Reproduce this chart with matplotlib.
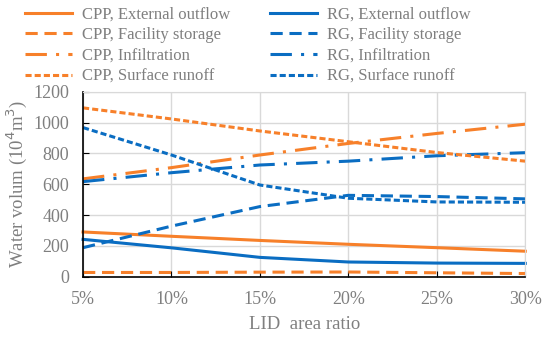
import numpy as np
import matplotlib
matplotlib.use("Agg")
import matplotlib.pyplot as plt
from matplotlib.ticker import FuncFormatter

plt.rcParams["font.family"] = ["Liberation Serif", "DejaVu Serif"]

ratio = [5, 10, 15, 20, 25, 30]
cpp_outflow = [290, 262, 235, 210, 188, 165]
rg_outflow = [242, 187, 125, 95, 88, 86]
cpp_storage = [27, 27, 29, 30, 25, 20]
rg_storage = [188, 328, 455, 528, 520, 505]
cpp_infil = [635, 708, 790, 865, 930, 990]
rg_infil = [617, 675, 725, 750, 785, 805]
cpp_runoff = [1096, 1024, 946, 876, 806, 750]
rg_runoff = [968, 790, 595, 509, 485, 483]

ORANGE = "#F7802A"
BLUE = "#0A6DC2"
GRAY = "#7F7F7F"

ls_out = "-"
ls_sto = (0, (4, 2.2))
ls_inf = (0, (7, 3, 1, 3))
ls_run = (0, (2, 1))

fig = plt.figure(figsize=(5.5, 3.39), dpi=100)
ax = fig.add_axes([0.151, 0.184, 0.804, 0.545])

series = [
    ("CPP, External outflow", cpp_outflow, ORANGE, ls_out),
    ("RG, External outflow", rg_outflow, BLUE, ls_out),
    ("CPP, Facility storage", cpp_storage, ORANGE, ls_sto),
    ("RG, Facility storage", rg_storage, BLUE, ls_sto),
    ("CPP, Infiltration", cpp_infil, ORANGE, ls_inf),
    ("RG, Infiltration", rg_infil, BLUE, ls_inf),
    ("CPP, Surface runoff", cpp_runoff, ORANGE, ls_run),
    ("RG, Surface runoff", rg_runoff, BLUE, ls_run),
]
lines = {}
for lab, vals, col, ls in series:
    ln, = ax.plot(ratio, vals, color=col, ls=ls, lw=2.2, label=lab,
                  dash_capstyle="butt", clip_on=False)
    lines[lab] = ln

ax.set_xlim(5, 30)
ax.set_ylim(0, 1200)
ax.set_xticks(ratio)
ax.set_yticks(np.arange(0, 1201, 200))
ax.xaxis.set_major_formatter(FuncFormatter(lambda v, p: f"{v:.0f}%"))
ax.grid(True, color="#D9D9D9", lw=1.0)
ax.set_axisbelow(True)
for s in ["top", "right"]:
    ax.spines[s].set_color("#D9D9D9")
for s in ["left", "bottom"]:
    ax.spines[s].set_color("black")
    ax.spines[s].set_linewidth(1.2)
ax.tick_params(axis="both", labelcolor=GRAY, labelsize=13, length=4,
               direction="in", color="black", pad=10)
ax.set_xlabel("LID  area ratio", color=GRAY, fontsize=13.5, labelpad=6)
ax.set_ylabel("Water volum (10$^4$m$^3$)", color=GRAY, fontsize=13.5, labelpad=3)

order = ["CPP, External outflow", "CPP, Facility storage", "CPP, Infiltration",
         "CPP, Surface runoff", "RG, External outflow", "RG, Facility storage",
         "RG, Infiltration", "RG, Surface runoff"]
leg = fig.legend([lines[k] for k in order], order, ncol=2,
                 loc="upper left", bbox_to_anchor=(0.018, 1.025),
                 frameon=False, fontsize=12, handlelength=2.82,
                 handletextpad=0.6, columnspacing=2.4, labelspacing=0.28,
                 labelcolor=GRAY)

fig.savefig("out.png", dpi=100)
